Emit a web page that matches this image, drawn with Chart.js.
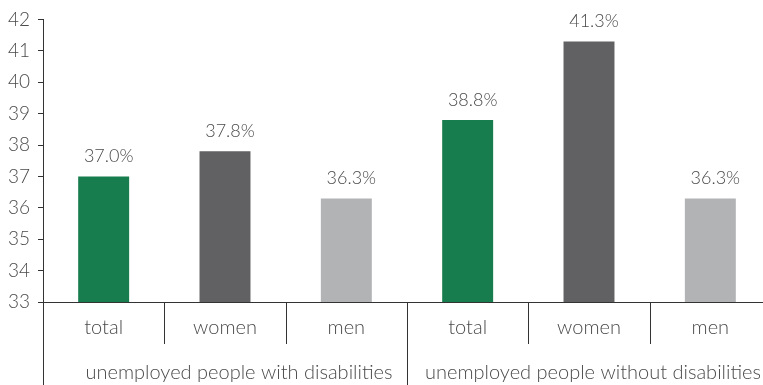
<!DOCTYPE html>
<html>
<head>
<meta charset="utf-8">
<script src="https://cdn.jsdelivr.net/npm/chart.js@4/dist/chart.umd.min.js"></script>
<style>
  html, body { margin: 0; padding: 0; background: #fff; overflow: hidden; }
  #wrap { width: 763px; height: 385px; overflow: hidden; }
</style>
</head>
<body>
<div id="wrap"><canvas id="chart" width="771" height="385"></canvas></div>
<script>
// values
const categories = ['total', 'women', 'men', 'total', 'women', 'men'];
const groups = ['unemployed people with disabilities', 'unemployed people without disabilities'];
const rates = [37.0, 37.8, 36.3, 38.8, 41.3, 36.3];
const yTicks = [33, 34, 35, 36, 37, 38, 39, 40, 41, 42];

const barColors = ['#177c4e', '#616163', '#b2b3b5', '#177c4e', '#616163', '#b2b3b5'];
const textColor = '#4a4a4a';
const lineColor = '#333333';
const fontFamily = 'Lato, "Open Sans", sans-serif';

// separators, group labels, value labels and the long y axis line
const decorations = {
    id: 'decorations',
    afterDraw(chart) {
        const ctx = chart.ctx;
        const xs = chart.scales.x;
        const area = chart.chartArea;
        const step = xs.getPixelForValue(1) - xs.getPixelForValue(0);
        ctx.save();
        ctx.strokeStyle = lineColor;
        ctx.lineWidth = 1;

        // y axis continues down to the bottom
        ctx.beginPath();
        ctx.moveTo(Math.round(area.left) + 0.5, area.bottom);
        ctx.lineTo(Math.round(area.left) + 0.5, chart.height);
        ctx.stroke();

        // separators between categories
        for (let i = 1; i < categories.length; i++) {
            const x = Math.round(xs.getPixelForValue(i) - step / 2) + 0.5;
            const isGroup = i % 3 === 0;
            ctx.beginPath();
            ctx.moveTo(x, area.bottom);
            ctx.lineTo(x, isGroup ? chart.height : area.bottom + 42);
            ctx.stroke();
        }

        // group labels
        ctx.fillStyle = textColor;
        ctx.font = '300 20px ' + fontFamily;
        ctx.textAlign = 'center';
        ctx.textBaseline = 'middle';
        groups.forEach((g, gi) => {
            const cx = xs.getPixelForValue(gi * 3 + 1) + (gi === 0 ? 14 : 4);
            ctx.fillText(g, cx, area.bottom + 71);
        });

        // value labels above bars
        ctx.font = '300 18px ' + fontFamily;
        const meta = chart.getDatasetMeta(0);
        meta.data.forEach((bar, i) => {
            ctx.fillText(rates[i].toFixed(1) + '%', bar.x + 5, bar.y - 20);
        });
        ctx.restore();
    }
};

new Chart(document.getElementById('chart'), {
    type: 'bar',
    data: {
        labels: categories,
        datasets: [{
            data: rates,
            backgroundColor: barColors,
            borderWidth: 0,
            categoryPercentage: 1,
            barPercentage: 0.42
        }]
    },
    options: {
        responsive: false,
        animation: false,
        layout: { padding: { top: 10, right: 0, left: 0, bottom: 0 } },
        plugins: {
            legend: { display: false },
            tooltip: { enabled: false }
        },
        scales: {
            y: {
                min: 33,
                max: 42,
                afterBuildTicks: axis => { axis.ticks = yTicks.map(v => ({ value: v })); },
                afterFit: axis => { axis.width = 43; },
                grid: { drawOnChartArea: false, drawTicks: true, tickLength: 5, color: lineColor },
                border: { display: true, color: lineColor },
                ticks: {
                    color: textColor,
                    padding: 8,
                    font: { family: fontFamily, size: 19, weight: 300 }
                }
            },
            x: {
                afterFit: axis => { axis.height = 83; },
                grid: { display: false },
                border: { display: true, color: lineColor },
                ticks: {
                    color: textColor,
                    padding: 6,
                    maxRotation: 0,
                    font: { family: fontFamily, size: 20, weight: 300 }
                }
            }
        }
    },
    plugins: [decorations]
});
</script>
</body>
</html>
